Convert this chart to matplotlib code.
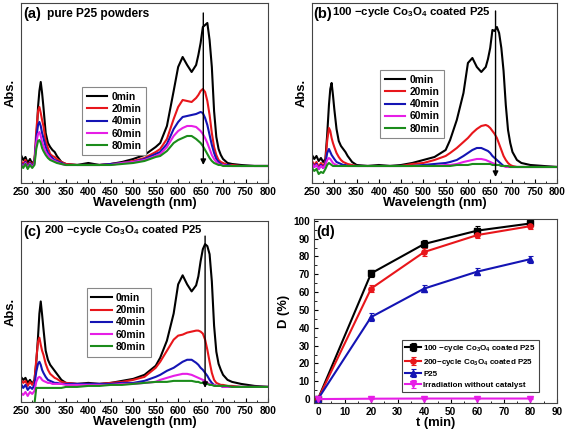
import matplotlib
matplotlib.use("Agg")
import matplotlib.pyplot as plt
from matplotlib.ticker import MultipleLocator

plt.rcParams['font.family'] = ['Liberation Sans', 'DejaVu Sans']
plt.rcParams['font.weight'] = 'bold'
plt.rcParams['axes.labelweight'] = 'bold'
plt.rcParams['mathtext.fontset'] = 'custom'
plt.rcParams['mathtext.rm'] = 'Liberation Sans:bold'
plt.rcParams['mathtext.bf'] = 'Liberation Sans:bold'
plt.rcParams['mathtext.default'] = 'bf'

# === DATA ===
# shared wavelength grid (nm) for the UV-vis spectra
wl = [250, 255, 260, 265, 270, 275, 280, 284, 288, 291, 294, 297, 300,
      305, 310, 315, 320, 325, 330, 340, 350, 375, 400, 425, 450,
      475, 500, 525, 550, 560, 575, 590, 600, 610, 620, 630, 640,
      645, 650, 655, 660, 665, 670, 675, 680, 685, 690, 695, 700,
      710, 720, 740, 770, 800]
times = ["0min", "20min", "40min", "60min", "80min"]

# (a) pure P25 powders, absorbance (a.u.)
a_0 = [28, 23, 26, 20, 24, 19, 23, 40, 76, 92, 101, 90, 76, 50, 40, 36, 33, 31, 27, 21, 19, 18, 20, 18, 19,
       21, 24, 28, 36, 40, 57, 92, 116, 126, 118, 111, 118, 128, 140, 156, 158, 160, 143, 116, 72, 46, 34, 28, 24,
       20, 19, 18, 17, 17]
a_20 = [22, 19, 23, 17, 21, 18, 22, 52, 72, 76, 70, 63, 57, 42, 35, 29, 27, 26, 24, 21, 19, 18, 18, 18, 19,
        20, 22, 25, 31, 34, 44, 64, 76, 83, 82, 81, 85, 88, 92, 94, 91, 82, 68, 50, 36, 28, 23, 21, 20,
        18, 18, 17, 17, 17]
a_40 = [20, 17, 21, 16, 20, 17, 20, 45, 58, 61, 57, 50, 45, 36, 30, 27, 25, 23, 22, 20, 18, 18, 18, 18, 19,
        20, 21, 24, 29, 31, 39, 54, 61, 66, 67, 68, 69, 70, 71, 70, 65, 58, 48, 38, 30, 24, 21, 19, 18,
        18, 17, 17, 17, 17]
a_60 = [19, 16, 20, 15, 19, 16, 19, 40, 49, 51, 47, 41, 37, 31, 28, 25, 23, 22, 21, 19, 18, 18, 18, 18, 18,
        20, 21, 23, 27, 29, 36, 47, 52, 55, 57, 57, 56, 54, 52, 49, 45, 40, 34, 28, 24, 21, 19, 18, 18,
        17, 17, 17, 17, 17]
a_80 = [18, 15, 19, 14, 18, 15, 18, 34, 42, 43, 40, 35, 32, 28, 25, 23, 22, 21, 20, 19, 18, 18, 18, 18, 18,
        19, 20, 22, 26, 27, 32, 40, 43, 45, 47, 47, 44, 42, 40, 37, 33, 29, 25, 22, 20, 19, 18, 18, 17,
        17, 17, 17, 17, 17]

# (b) 100-cycle Co3O4 coated P25
b_0 = [28, 24, 27, 22, 25, 21, 24, 48, 78, 94, 100, 88, 74, 54, 42, 37, 34, 31, 27, 21, 18, 17, 18, 17, 18,
       20, 23, 26, 33, 43, 63, 90, 120, 125, 116, 111, 116, 124, 135, 153, 152, 156, 150, 135, 112, 78, 53, 40, 31,
       23, 20, 18, 17, 16]
b_20 = [22, 18, 21, 16, 20, 17, 21, 42, 55, 52, 45, 40, 36, 30, 26, 23, 21, 20, 19, 18, 17, 17, 17, 17, 17,
        19, 20, 23, 27, 30, 35, 41, 45, 50, 54, 57, 58, 57, 55, 52, 49, 45, 39, 33, 27, 23, 20, 18, 17,
        16, 16, 16, 16, 16]
b_40 = [20, 16, 19, 14, 18, 15, 19, 30, 34, 31, 28, 26, 24, 21, 20, 19, 18, 18, 17, 17, 17, 17, 17, 17, 17,
        17, 18, 19, 20, 21, 23, 27, 30, 33, 35, 35, 33, 32, 30, 27, 25, 23, 21, 19, 17, 17, 16, 16, 16,
        16, 16, 16, 16, 16]
b_60 = [19, 16, 18, 14, 17, 15, 18, 23, 25, 24, 22, 20, 19, 18, 17, 17, 17, 17, 17, 17, 17, 17, 17, 17, 17,
        17, 17, 17, 18, 18, 19, 21, 22, 23, 24, 24, 23, 22, 21, 20, 19, 18, 18, 17, 17, 16, 16, 16, 16,
        16, 16, 16, 16, 16]
b_80 = [15, 12, 14, 9, 11, 10, 14, 18, 20, 19, 18, 17, 17, 17, 17, 17, 17, 17, 17, 17, 17, 17, 17, 17, 17,
        17, 17, 17, 17, 17, 18, 18, 18, 19, 19, 19, 19, 19, 19, 18, 18, 18, 18, 17, 17, 17, 17, 16, 16,
        16, 16, 16, 16, 16]

# (c) 200-cycle Co3O4 coated P25
c_0 = [25, 22, 24, 19, 22, 18, 22, 39, 65, 88, 100, 87, 73, 51, 42, 37, 34, 31, 28, 22, 19, 18, 19, 18, 19,
       21, 23, 27, 36, 44, 61, 88, 117, 126, 117, 110, 116, 125, 140, 152, 157, 155, 147, 120, 76, 50, 38, 32, 27,
       22, 20, 18, 16, 15]
c_20 = [22, 19, 21, 16, 20, 17, 21, 42, 60, 64, 57, 51, 47, 38, 32, 28, 26, 24, 23, 20, 19, 18, 18, 18, 19,
        20, 22, 25, 34, 40, 51, 62, 66, 67, 69, 70, 71, 71, 70, 68, 62, 52, 40, 29, 22, 19, 18, 17, 17,
        16, 16, 15, 15, 15]
c_40 = [18, 14, 17, 12, 15, 13, 17, 30, 38, 40, 37, 32, 29, 25, 22, 21, 20, 19, 19, 18, 18, 18, 18, 18, 18,
        19, 19, 21, 25, 27, 31, 34, 37, 40, 42, 42, 39, 37, 34, 32, 29, 26, 22, 19, 17, 16, 16, 16, 15,
        15, 15, 15, 15, 15]
c_60 = [9, 7, 10, 6, 10, 8, 11, 20, 24, 25, 24, 22, 21, 20, 19, 19, 18, 18, 18, 18, 17, 17, 17, 17, 17,
        18, 18, 19, 20, 22, 24, 26, 27, 28, 28, 27, 25, 24, 23, 22, 21, 19, 18, 17, 17, 16, 16, 16, 15,
        15, 15, 15, 15, 15]
c_80 = [-3, -2, -3, -2, -2, -3, -2, 14, 14, 14, 14, 14, 14, 14, 14, 14, 14, 14, 14, 14, 15, 15, 16, 16, 17,
        17, 18, 19, 20, 20, 20, 21, 21, 21, 21, 21, 20, 20, 19, 19, 18, 18, 17, 17, 16, 16, 16, 16, 16,
        16, 15, 15, 15, 15]

# (d) degradation D (%) vs irradiation time
t_min = [0, 20, 40, 60, 80]
d_100 = [0, 70.5, 87, 94.5, 98.5]
d_200 = [0, 62, 82.5, 92, 97]
d_p25 = [0, 46, 62, 71.5, 78.5]
d_none = [0, 0.2, 0.3, 0.3, 0.3]
err_100 = [0.5, 1.8, 2, 2.5, 1]
err_200 = [0.5, 1.8, 2, 1.8, 1.5]
err_p25 = [0.5, 2, 2, 2, 2]
err_none = [0.3, 0.3, 0.3, 0.3, 0.3]

colors = ['#000000', '#e8161b', '#1414b4', '#e61ee6', '#1b8c1b']

fig = plt.figure(figsize=(5.67, 4.33), dpi=100)
ax_a = fig.add_axes([0.037, 0.5774, 0.4356, 0.4157])
ax_b = fig.add_axes([0.5503, 0.5774, 0.4321, 0.4157])
ax_c = fig.add_axes([0.037, 0.0716, 0.4356, 0.418])
ax_d = fig.add_axes([0.5538, 0.0693, 0.4286, 0.4249])


def style_ticks(ax):
    ax.tick_params(which='both', direction='in', labelsize=7.2, pad=3)
    ax.tick_params(which='major', length=3)
    ax.tick_params(which='minor', length=1.8)
    for lab in ax.get_xticklabels() + ax.get_yticklabels():
        lab.set_fontweight('bold')
    for s in ax.spines.values():
        s.set_color('#444444')


def spectra(ax, curves, arrow_x, arrow_top, arrow_bot, leg_x, leg_y):
    for y, c, lab in zip(curves, colors, times):
        ax.plot(wl, y, color=c, lw=1.5, label=lab)
    ax.annotate('', xy=(arrow_x, arrow_bot), xytext=(arrow_x, arrow_top),
                arrowprops=dict(arrowstyle='-|>', color='k', lw=1.0,
                                mutation_scale=8, shrinkA=0, shrinkB=0))
    ax.set_xlim(250, 800)
    ax.set_ylim(0, 180)
    ax.set_yticks([])
    ax.xaxis.set_major_locator(MultipleLocator(50))
    ax.xaxis.set_minor_locator(MultipleLocator(25))
    style_ticks(ax)
    ax.set_xlabel('Wavelength (nm)', fontsize=9.4, labelpad=0)
    ax.set_ylabel('Abs.', fontsize=9.4, labelpad=3)
    leg = ax.legend(loc='upper left', bbox_to_anchor=(leg_x, leg_y), fontsize=7.4,
                    handlelength=2.0, handletextpad=0.4, labelspacing=0.22,
                    borderpad=0.45, fancybox=False, framealpha=1)
    leg.get_frame().set_edgecolor('#888888')
    leg.get_frame().set_linewidth(0.8)


spectra(ax_a, [a_0, a_20, a_40, a_60, a_80], 656, 170, 18, 0.227, 0.561)
ax_a.text(0.01, 0.94, '(a)', transform=ax_a.transAxes, fontsize=10.5, va='center')
ax_a.text(0.104, 0.94, 'pure P25 powders', transform=ax_a.transAxes, fontsize=8.6, va='center')

spectra(ax_b, [b_0, b_20, b_40, b_60, b_80], 662, 172, 6, 0.257, 0.656)
ax_b.text(0.005, 0.94, '(b)', transform=ax_b.transAxes, fontsize=10.5, va='center')
ax_b.text(0.08, 0.95, '100 \u2212cycle Co$_3$O$_4$ coated P25', transform=ax_b.transAxes,
          fontsize=8.2, va='center')

spectra(ax_c, [c_0, c_20, c_40, c_60, c_80], 660, 165, 14, 0.245, 0.657)
ax_c.text(0.01, 0.94, '(c)', transform=ax_c.transAxes, fontsize=10.5, va='center')
ax_c.text(0.095, 0.95, '200 \u2212cycle Co$_3$O$_4$ coated P25', transform=ax_c.transAxes,
          fontsize=8.2, va='center')

# (d) degradation curves
series = [
    (d_100, err_100, '#000000', 's', '100 \u2212cycle Co$_3$O$_4$ coated P25'),
    (d_200, err_200, '#e8161b', 'o', '200\u2212cycle Co$_3$O$_4$ coated P25'),
    (d_p25, err_p25, '#1414b4', '^', 'P25'),
    (d_none, err_none, '#e61ee6', 'v', 'Irradiation without catalyst'),
]
for y, e, c, m, lab in series:
    ax_d.errorbar(t_min, y, yerr=e, color=c, marker=m, ms=3.8, lw=1.5,
                  elinewidth=0.8, capsize=1.8, capthick=0.8, label=lab)
ax_d.set_xlim(-1.5, 90)
ax_d.set_ylim(-2.2, 101)
ax_d.xaxis.set_major_locator(MultipleLocator(10))
ax_d.xaxis.set_minor_locator(MultipleLocator(5))
ax_d.yaxis.set_major_locator(MultipleLocator(10))
ax_d.yaxis.set_minor_locator(MultipleLocator(5))
style_ticks(ax_d)
ax_d.set_xlabel('t (min)', fontsize=9.4, labelpad=0)
ax_d.set_ylabel('D (%)', fontsize=9.4, labelpad=2)
ax_d.text(0.01, 0.93, '(d)', transform=ax_d.transAxes, fontsize=10.5, va='center')
leg = ax_d.legend(loc='upper left', bbox_to_anchor=(0.344, 0.366), fontsize=5.8,
                  handlelength=2.0, handletextpad=0.3, labelspacing=0.35,
                  borderpad=0.4, fancybox=False, framealpha=1)
leg.get_frame().set_edgecolor('#444444')
leg.get_frame().set_linewidth(0.8)

fig.savefig('out.png', dpi=100)
